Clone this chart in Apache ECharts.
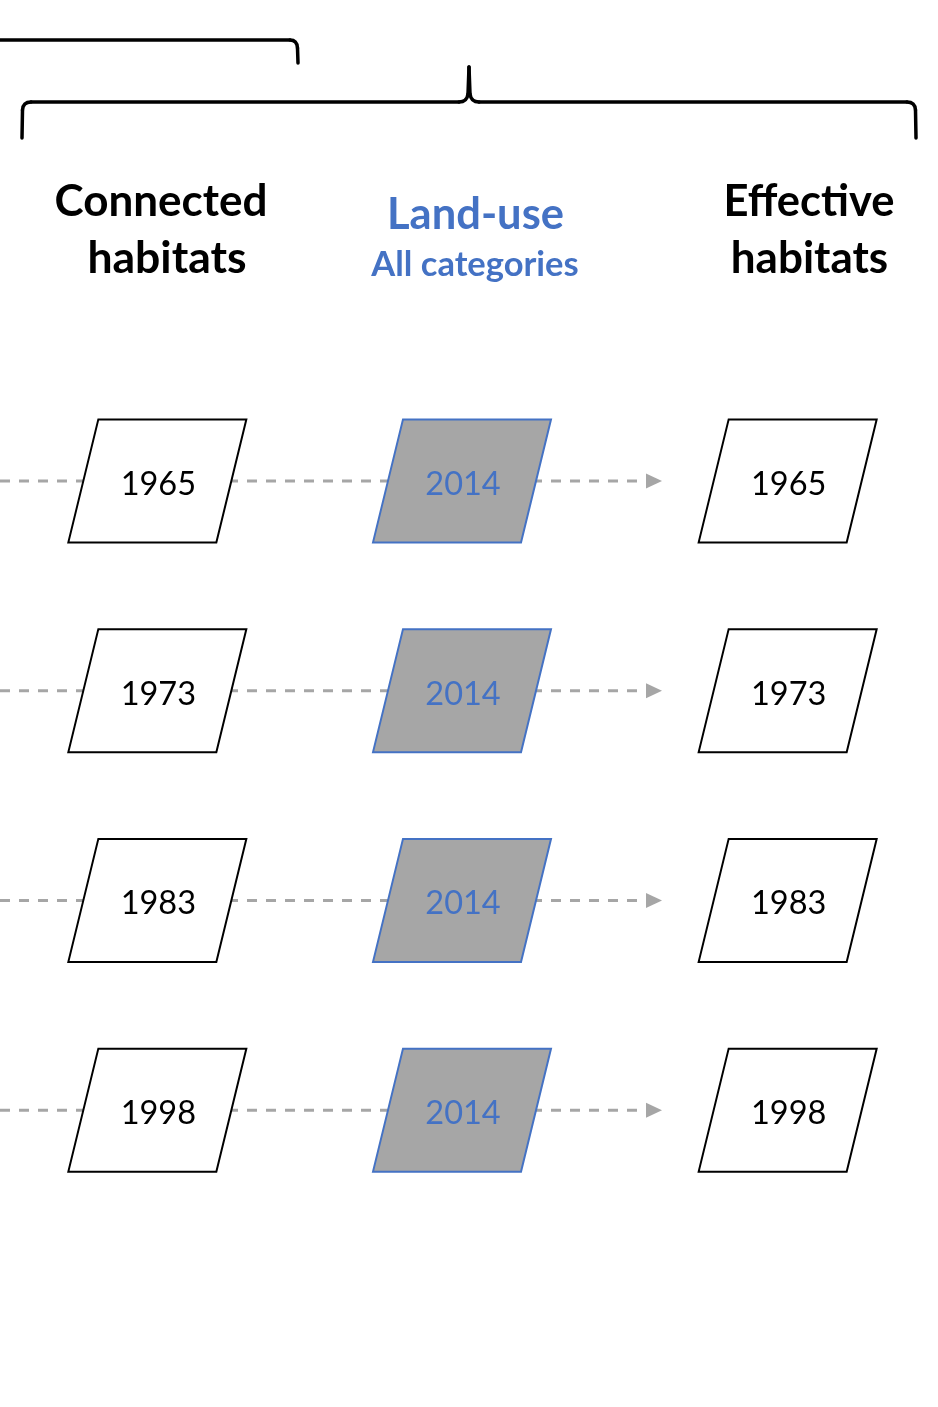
<!DOCTYPE html>
<html>
<head>
<meta charset="utf-8">
<script src="https://cdn.jsdelivr.net/npm/echarts@6/dist/echarts.min.js"></script>
<style>
html,body{margin:0;padding:0;background:#fff;}
#c{width:938px;height:1407px;}
</style>
</head>
<body>
<div id="c"></div>
<script>
// ---- data ----
const columns = ['Connected habitats', 'Land-use', 'Effective habitats'];
const connectedYears = ['1965', '1973', '1983', '1998'];
const landUseYears = ['2014', '2014', '2014', '2014'];
const effectiveYears = ['1965', '1973', '1983', '1998'];
const rows = ['1965', '1973', '1983', '1998'];

// ---- build ----
const colYears = [connectedYears, landUseYears, effectiveYears];
const boxData = [];
colYears.forEach((ys, j) => ys.forEach((y, i) => boxData.push([j, i, y])));
const lineData = rows.map((r, i) => [1, i]);

const BLUE = '#4472C4';
const GREY = '#A6A6A6';
const colNudge = [1, -7, 6];
const FONT = 'Lato, "Open Sans", sans-serif';

function boxRender(params, api) {
  const j = api.value(0), i = api.value(1);
  const c = api.coord([j, i]);
  const cx = c[0] + colNudge[j], cy = c[1];
  const hw = 74, hh = 61.5, sk = 15;
  const mid = j === 1;
  return {
    type: 'group',
    children: [
      {
        type: 'polygon',
        shape: { points: [[cx - hw + sk, cy - hh], [cx + hw + sk, cy - hh], [cx + hw - sk, cy + hh], [cx - hw - sk, cy + hh]] },
        style: { fill: mid ? GREY : '#fff', stroke: mid ? BLUE : '#000', lineWidth: 2 }
      },
      {
        type: 'text',
        x: cx + 1, y: cy + 3.5,
        style: { text: String(api.value(2)), fill: mid ? BLUE : '#000', font: '32.5px ' + FONT, align: 'center', verticalAlign: 'middle' }
      }
    ]
  };
}

function lineRender(params, api) {
  const c = api.coord([api.value(0), api.value(1)]);
  const cx = c[0] + colNudge[1], cy = c[1];
  const end = cx + 184, tip = cx + 200;
  return {
    type: 'group',
    children: [
      { type: 'line', shape: { x1: 0, y1: cy, x2: end, y2: cy }, style: { stroke: GREY, lineWidth: 3, lineDash: [10, 9] } },
      { type: 'polygon', shape: { points: [[end, cy - 7.5], [tip, cy], [end, cy + 7.5]] }, style: { fill: GREY } }
    ]
  };
}

const BS = { stroke: '#000', lineWidth: 3.5, fill: null, lineCap: 'round' };
function L(x1, y1, x2, y2) { return { type: 'line', shape: { x1, y1, x2, y2 }, style: BS }; }
function Q(x1, y1, cx, cy, x2, y2) { return { type: 'bezierCurve', shape: { x1, y1, x2, y2, cpx1: cx, cpy1: cy }, style: BS }; }
function T(x, y, text, font, fill) { return { type: 'text', x, y, style: { text, font, fill, align: 'center', verticalAlign: 'middle' } }; }

const chart = echarts.init(document.getElementById('c'), null, { renderer: 'canvas' });
chart.setOption({
  animation: false,
  grid: { left: 0, right: 0, top: 376, height: 839 },
  xAxis: { type: 'category', data: columns, show: false },
  yAxis: { type: 'category', data: rows, inverse: true, show: false },
  graphic: [
    L(0, 40, 290, 40), Q(290, 40, 297, 40, 297.5, 48), L(297.5, 48, 298, 63),
    L(22, 138, 22.5, 110), Q(22.5, 110, 23, 102, 31, 102), L(31, 102, 459, 102), Q(459, 102, 467, 102, 468, 94), L(468, 94, 469, 67),
    L(469, 67, 470, 94), Q(470, 94, 471, 102, 479, 102), L(479, 102, 907, 102), Q(907, 102, 915, 102, 915.5, 110), L(915.5, 110, 916, 138),
    T(161, 202, 'Connected', 'bold 44px ' + FONT, '#000'),
    T(167, 259, 'habitats', 'bold 44.5px ' + FONT, '#000'),
    T(475.5, 215, 'Land-use', 'bold 43.5px ' + FONT, BLUE),
    T(475, 265, 'All categories', 'bold 34.5px ' + FONT, BLUE),
    T(809, 202, 'Effective', 'bold 43.5px ' + FONT, '#000'),
    T(809.5, 259, 'habitats', 'bold 44px ' + FONT, '#000')
  ],
  series: [
    { type: 'custom', z: 1, renderItem: lineRender, data: lineData, silent: true },
    { type: 'custom', z: 2, renderItem: boxRender, data: boxData, silent: true }
  ]
});
</script>
</body>
</html>
